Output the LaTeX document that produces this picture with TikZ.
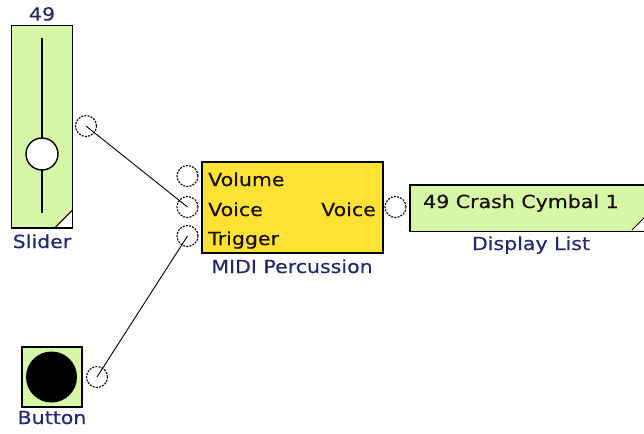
\documentclass[tikz,border=0pt]{standalone}
\usepackage{fontspec}
\setmainfont[FakeStretch=1.14,FakeBold=0.4]{DejaVu Sans}
\definecolor{boxgreen}{HTML}{D6F7A8}
\definecolor{boxyellow}{HTML}{FFE234}
\definecolor{labelblue}{HTML}{26266E}
\definecolor{intext}{HTML}{1A1000}
\begin{document}
\begin{tikzpicture}[x=1pt,y=-1pt,
  lbl/.style={text=labelblue, font=\fontsize{18}{20}\selectfont, inner sep=0pt},
  txt/.style={text=intext, font=\fontsize{18}{20}\selectfont, inner sep=0pt},
  blockbox/.style={rectangle, inner sep=0pt, line width=1.4pt},
  port/.style={circle, draw, minimum size=21pt, inner sep=0pt, line width=1.1pt, dash pattern=on 2pt off 1.2pt},
  wire/.style={line width=0.9pt}]
\useasboundingbox (0,0) rectangle (644,433);
\clip (0,0) rectangle (644,433);

% ---- Slider ----
\node[blockbox, fill=boxgreen, minimum width=60pt, minimum height=201pt] (slider) at (42,126.8) {};
\fill[white] (slider.south east) -- ++(-18,0) -- ++(18,-18) -- cycle;
\draw[line width=1pt] (slider.south east) ++(-18,0) -- ++(18,-18);
\draw[line width=1.4pt] (slider.north west) rectangle (slider.south east);
\draw[line width=1.8pt] (42,38) -- (42,213);
\node[circle, draw, fill=white, line width=1.4pt, minimum size=32pt, inner sep=0pt] (knob) at (42,154) {};
\node[lbl, anchor=base] (sval) at (42,20.5) {49};
\node[lbl, anchor=base] (slbl) at (42,248) {Slider};
\node[port] (sp) at (86,126) {};

% ---- MIDI Percussion ----
\node[blockbox, draw, fill=boxyellow, minimum width=181pt, minimum height=91pt] (midi) at (292.5,207.5) {};
\node[txt, anchor=base west] (tvol) at (208,186) {Volume};
\node[txt, anchor=base west] (tvoi) at (208,216) {Voice};
\node[txt, anchor=base west] (ttrg) at (208,245) {Trigger};
\node[txt, anchor=base east] (tout) at (376,216) {Voice};
\node[lbl, anchor=base] (mlbl) at (292,273) {MIDI Percussion};
\node[port] (pin1) at (187.5,176) {};
\node[port] (pin2) at (187.5,207) {};
\node[port] (pin3) at (187.5,236) {};
\node[port] (pout) at (395.5,207) {};

% ---- Display List ----
\node[blockbox, fill=boxgreen, minimum width=240pt, minimum height=45pt, anchor=north west] (disp) at (410,185) {};
\fill[white] (632,230) -- (652,230) -- (652,210) -- cycle;
\draw[line width=1pt] (632,230) -- (652,210);
\draw[line width=1.4pt] (disp.north west) rectangle (disp.south east);
\node[txt, anchor=base west] (dtxt) at (423,208) {49 Crash Cymbal 1};
\node[lbl, anchor=base] (dlbl) at (531,250) {Display List};

% ---- Button ----
\node[blockbox, draw, fill=boxgreen, minimum width=60pt, minimum height=60pt] (button) at (52,377) {};
\node[circle, fill=black, minimum size=51pt, inner sep=0pt] (bdot) at (51.5,377) {};
\node[lbl, anchor=base] (blbl) at (52,424) {Button};
\node[port] (bp) at (97,377) {};

% ---- Wires ----
\draw[wire] (sp.center) -- (pin2.center);
\draw[wire] (bp.center) -- (pin3.center);
\end{tikzpicture}
\end{document}
